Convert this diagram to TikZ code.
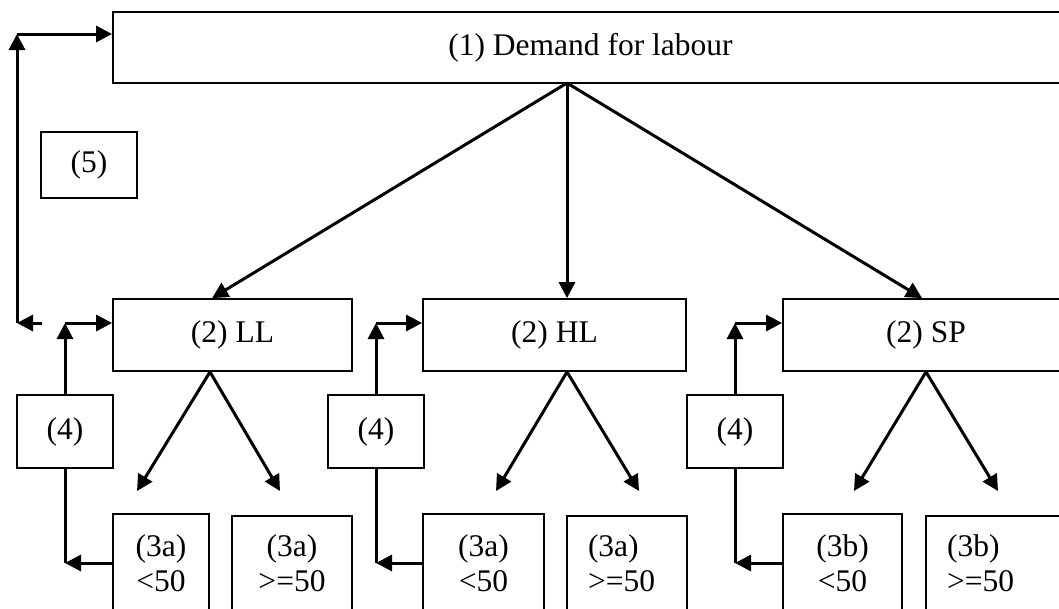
\documentclass[tikz,border=0pt]{standalone}
\usepackage{fontspec}
\setmainfont{Liberation Serif}
\usetikzlibrary{arrows.meta}

\begin{document}
\begin{tikzpicture}[>={Triangle[length=16pt,width=16pt]},x=1pt,y=-1pt,
  n/.style={draw,line width=1.8pt,minimum height=72pt,inner sep=0pt,font=\fontsize{31.5}{35}\selectfont},
  lo/.style={n,align=center,minimum height=98pt},
  lol/.style={n,align=left,minimum height=94pt,inner xsep=21pt},
  con/.style={->,line width=3pt}]
\useasboundingbox (0,0) rectangle (1059,608);
\clip (0,0) rectangle (1059,608);

% boxes
\node[n,minimum width=955pt,minimum height=71pt] (demand) at (590.5,47.5) {(1) Demand for labour};
\node[n,minimum width=96pt,minimum height=66pt] (five) at (89,165) {(5)};
\node[n,minimum width=239pt] (ll) at (232.5,335) {(2) LL};
\node[n,minimum width=263pt] (hl) at (554.5,335) {(2) HL};
\node[n,minimum width=286pt] (sp) at (926,335) {(2) SP};
\foreach \x/\nm in {65/fll,376/fhl,735/fsp}
  \node[n,minimum width=96pt,minimum height=73pt] (\nm) at (\x,431.5) {(4)};
\node[lo,minimum width=96pt] (ll-lo) at (161,563) {(3a)\\<50};
\node[lo,minimum width=120pt,minimum height=94pt] (ll-hi) at (292,563) {(3a)\\>=50};
\node[lo,minimum width=121pt] (hl-lo) at (483.5,563) {(3a)\\<50};
\node[lol,text width=78pt] (hl-hi) at (627,563) {(3a)\\>=50};
\node[lo,minimum width=119pt] (sp-lo) at (842.5,563) {(3b)\\<50};
\node[lol,text width=92pt] (sp-hi) at (993,563) {(3b)\\>=50};

% demand to the three groups
\coordinate (dsplit) at (567,83);
\draw[con] (dsplit) -- ([xshift=100pt]ll.north west);
\draw[con] (dsplit) -- (dsplit |- hl.north);
\draw[con] (dsplit) -- ([xshift=-4pt]sp.north);

% groups to size classes
\coordinate (ll-split) at ([xshift=-22.5pt]ll.south);
\coordinate (hl-split) at (dsplit |- hl.south);
\coordinate (sp-split) at (sp.south);
\foreach \s/\xa/\xb in {ll/137/280,hl/496/639,sp/854/998}{
  \coordinate (\s-l) at (\xa,491);
  \coordinate (\s-r) at (\xb,491);
  \draw[con] (\s-split) -- (\s-l);
  \draw[con] (\s-split) -- (\s-r);
}

% feedback (4)
\foreach \f/\up/\lo in {fll/ll/ll-lo,fhl/hl/hl-lo,fsp/sp/sp-lo}{
  \path (\up.west) ++(0,-12) coordinate (\up-in);
  \coordinate (\f-top) at (\f |- \up-in);
  \draw[con] (\f) -- (\f-top);
  \draw[con] (\f-top) -- (\up-in);
  \draw[con] (\lo.west) -- (\f |- \lo.west);
  \draw[line width=3pt] (\f |- \lo.west) -- (\f);
}

% feedback (5)
\coordinate (fb-start) at (42,323);
\coordinate (fb-corner) at (17,323);
\coordinate (fb-top) at (17,34);
\draw[con] (fb-start) -- (fb-corner);
\draw[con] (fb-corner) -- (fb-top);
\draw[con] (fb-top) -- (fb-top -| demand.west);
\end{tikzpicture}
\end{document}
